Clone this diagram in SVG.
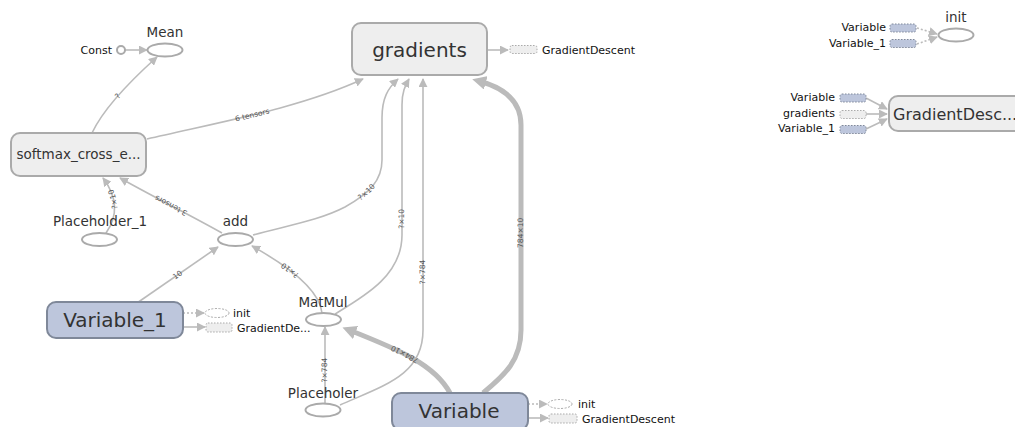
<svg xmlns="http://www.w3.org/2000/svg" width="1015" height="427" viewBox="0 0 1015 427">
  <style>
    text { font-family: "DejaVu Sans", "Liberation Sans", sans-serif; }
    .op { fill: #ffffff; stroke: #aaaaaa; stroke-width: 2; }
    .meta { fill: #eeeeee; stroke: #aaaaaa; stroke-width: 2; }
    .var { fill: #bdc6dc; stroke: #7f8899; stroke-width: 2; }
    .lbl { fill: #333333; font-size: 13.5px; text-anchor: middle; }
    .big { fill: #333333; font-size: 20px; text-anchor: middle; }
    .small { fill: #111111; font-size: 11px; }
    .end { text-anchor: end; }
    .edge { fill: none; stroke: #bbbbbb; stroke-width: 1.6; }
    .thick { stroke-width: 5; }
    .ctrl { stroke-dasharray: 2 2; }
    .elbl { fill: #555555; font-size: 7.5px; }
    .auxmeta { fill: #eeeeee; stroke: #aaaaaa; stroke-width: 1; stroke-dasharray: 1.5 1.5; }
    .auxvar { fill: #bdc6dc; stroke: #7f8899; stroke-width: 1; stroke-dasharray: 1.5 1.5; }
    .auxop { fill: #ffffff; stroke: #aaaaaa; stroke-width: 1; stroke-dasharray: 2 1.5; }
  </style>
  <defs>
    <marker id="arrow" viewBox="0 0 10 10" refX="9" refY="5" markerWidth="9" markerHeight="9" markerUnits="userSpaceOnUse" orient="auto">
      <path d="M0,0 L10,5 L0,10 z" fill="#bbbbbb"/>
    </marker>
    <marker id="arrowThick" viewBox="0 0 10 10" refX="5" refY="5" markerWidth="14" markerHeight="14" markerUnits="userSpaceOnUse" orient="auto">
      <path d="M0,0 L10,5 L0,10 z" fill="#bbbbbb"/>
    </marker>
  </defs>

  <!-- dataflow and control edges -->
  <g id="connectors">
    <path class="edge" d="M125,50 L147,50" marker-end="url(#arrow)"/>

    <path id="e-softmax-mean" class="edge" d="M92,133 C100,116 118,92 157,57" marker-end="url(#arrow)"/>
    <text class="elbl" dy="2.5"><textPath href="#e-softmax-mean" startOffset="45%" text-anchor="middle">?</textPath></text>

    <path id="e-softmax-grad" class="edge" d="M147,139 C220,122 300,108 363,79" marker-end="url(#arrow)"/>
    <text class="elbl" dy="2.5"><textPath href="#e-softmax-grad" startOffset="48%" text-anchor="middle">6 tensors</textPath></text>

    <path id="e-ph1-softmax" class="edge" d="M106,233 C118,216 118,198 103,178" marker-end="url(#arrow)"/>
    <text class="elbl" dy="2.5"><textPath href="#e-ph1-softmax" startOffset="60%" text-anchor="middle">?×10</textPath></text>

    <path id="e-add-softmax" class="edge" d="M222,233 C190,215 150,195 120,178" marker-end="url(#arrow)"/>
    <text class="elbl" dy="2.5"><textPath href="#e-add-softmax" startOffset="50%" text-anchor="middle">3 tensors</textPath></text>

    <path id="e-add-grad" class="edge" d="M253,235 C290,225 320,220 345,207 C370,193 382,180 382,160 L382,118 C382,98 388,88 398,79" marker-end="url(#arrow)"/>
    <text class="elbl" dy="2.5"><textPath href="#e-add-grad" startOffset="50%" text-anchor="middle">?×10</textPath></text>

    <path id="e-var1-add" class="edge" d="M137,303 L218,247" marker-end="url(#arrow)"/>
    <text class="elbl" dy="2.5"><textPath href="#e-var1-add" startOffset="50%" text-anchor="middle">10</textPath></text>

    <path id="e-matmul-add" class="edge" d="M322,313 C320,292 295,270 252,246" marker-end="url(#arrow)"/>
    <text class="elbl" dy="2.5"><textPath href="#e-matmul-add" startOffset="55%" text-anchor="middle">?×10</textPath></text>

    <path id="e-matmul-grad" class="edge" d="M335,314 C365,296 402,275 402,235 L402,105 C402,92 405,86 409,79" marker-end="url(#arrow)"/>
    <text class="elbl" dy="2.5"><textPath href="#e-matmul-grad" startOffset="47%" text-anchor="middle">?×10</textPath></text>

    <path id="e-ph-grad" class="edge" d="M340,405 C385,385 423,375 423,330 L423,79" marker-end="url(#arrow)"/>
    <text class="elbl" dy="2.5"><textPath href="#e-ph-grad" startOffset="48%" text-anchor="middle">?×784</textPath></text>

    <path id="e-ph-matmul" class="edge" d="M325,404 L325,327" marker-end="url(#arrow)"/>
    <text class="elbl" dy="2.5"><textPath href="#e-ph-matmul" startOffset="44%" text-anchor="middle">?×784</textPath></text>

    <path id="e-var-matmul" class="edge thick" d="M450,393 C435,365 400,350 349,330" marker-end="url(#arrowThick)"/>
    <text class="elbl" dy="2.5"><textPath href="#e-var-matmul" startOffset="50%" text-anchor="middle">784×10</textPath></text>

    <path id="e-var-grad" class="edge thick" d="M483,393 C505,375 521,360 521,330 L521,125 C521,102 505,88 479,81" marker-end="url(#arrowThick)"/>
    <text class="elbl" dy="2.5"><textPath href="#e-var-grad" startOffset="50%" text-anchor="middle">784×10</textPath></text>

    <!-- auxiliary links -->
    <path class="edge" d="M487,50 L508,50" marker-end="url(#arrow)"/>
    <path class="edge ctrl" d="M183,313 L204,313" marker-end="url(#arrow)"/>
    <path class="edge" d="M183,327 L205,327" marker-end="url(#arrow)"/>
    <path class="edge ctrl" d="M528,404 L547,404" marker-end="url(#arrow)"/>
    <path class="edge" d="M528,418 L548,418" marker-end="url(#arrow)"/>
    <path class="edge ctrl" d="M917,28 L937,34" marker-end="url(#arrow)"/>
    <path class="edge ctrl" d="M917,44 L937,37" marker-end="url(#arrow)"/>
    <path class="edge" d="M866,98 L887,109" marker-end="url(#arrow)"/>
    <path class="edge" d="M866,114 L887,114" marker-end="url(#arrow)"/>
    <path class="edge" d="M866,129 L887,119" marker-end="url(#arrow)"/>
  </g>

  <g id="node-Const">
    <circle class="op" cx="121" cy="50" r="4"/>
    <text class="small end" x="112" y="54">Const</text>
  </g>

  <g id="node-Mean">
    <ellipse class="op" cx="165" cy="50" rx="17.5" ry="6.5"/>
    <text class="lbl" x="165" y="37">Mean</text>
  </g>

  <g id="node-gradients">
    <rect class="meta" x="352" y="23" width="135" height="52" rx="9"/>
    <text class="big" x="419.5" y="57">gradients</text>
    <rect class="auxmeta" x="510" y="45.5" width="27" height="8" rx="2"/>
    <text class="small" x="542" y="53.5">GradientDescent</text>
  </g>

  <g id="node-softmax">
    <rect class="meta" x="11" y="133" width="135" height="43" rx="9"/>
    <text class="lbl" x="78.5" y="159">softmax_cross_e...</text>
  </g>

  <g id="node-Placeholder_1">
    <ellipse class="op" cx="99.5" cy="239.5" rx="17.5" ry="6.5"/>
    <text class="lbl" x="100" y="226">Placeholder_1</text>
  </g>

  <g id="node-add">
    <ellipse class="op" cx="235.5" cy="239.5" rx="17.5" ry="6.5"/>
    <text class="lbl" x="235.5" y="226">add</text>
  </g>

  <g id="node-MatMul">
    <ellipse class="op" cx="323.5" cy="319.5" rx="17.5" ry="6.5"/>
    <text class="lbl" x="323" y="307">MatMul</text>
  </g>

  <g id="node-Placeholer">
    <ellipse class="op" cx="323" cy="410" rx="17.5" ry="6.5"/>
    <text class="lbl" x="323" y="398">Placeholer</text>
  </g>

  <g id="node-Variable_1">
    <rect class="var" x="47" y="302" width="136" height="36" rx="9"/>
    <text class="big" x="115" y="327">Variable_1</text>
    <ellipse class="auxop" cx="217" cy="313" rx="12" ry="4.5"/>
    <text class="small" x="233" y="316.5">init</text>
    <rect class="auxmeta" x="206" y="323" width="26" height="9" rx="2"/>
    <text class="small" x="237" y="331.5">GradientDe...</text>
  </g>

  <g id="node-Variable">
    <rect class="var" x="392" y="393" width="136" height="37" rx="9"/>
    <text class="big" x="459" y="418">Variable</text>
    <ellipse class="auxop" cx="560" cy="404" rx="12" ry="4.5"/>
    <text class="small" x="578" y="407.5">init</text>
    <rect class="auxmeta" x="549" y="414" width="28" height="9" rx="2"/>
    <text class="small" x="582" y="423">GradientDescent</text>
  </g>

  <g id="node-init">
    <ellipse class="op" cx="956" cy="35" rx="17.5" ry="6.5"/>
    <text class="lbl" x="956" y="22">init</text>
    <rect class="auxvar" x="890" y="24" width="26" height="8" rx="2"/>
    <text class="small end" x="886" y="31">Variable</text>
    <rect class="auxvar" x="890" y="39.5" width="26" height="8" rx="2"/>
    <text class="small end" x="886" y="47">Variable_1</text>
  </g>

  <g id="node-GradientDescent">
    <rect class="meta" x="889" y="96" width="140" height="35" rx="9"/>
    <text class="lbl" x="893" y="119.5" style="font-size:16px;text-anchor:start">GradientDesc...</text>
    <rect class="auxvar" x="840" y="94" width="26" height="8" rx="2"/>
    <text class="small end" x="835" y="101">Variable</text>
    <rect class="auxmeta" x="840" y="110.5" width="26" height="8" rx="2"/>
    <text class="small end" x="835" y="117">gradients</text>
    <rect class="auxvar" x="840" y="125.5" width="26" height="8" rx="2"/>
    <text class="small end" x="835" y="132">Variable_1</text>
  </g>
</svg>
